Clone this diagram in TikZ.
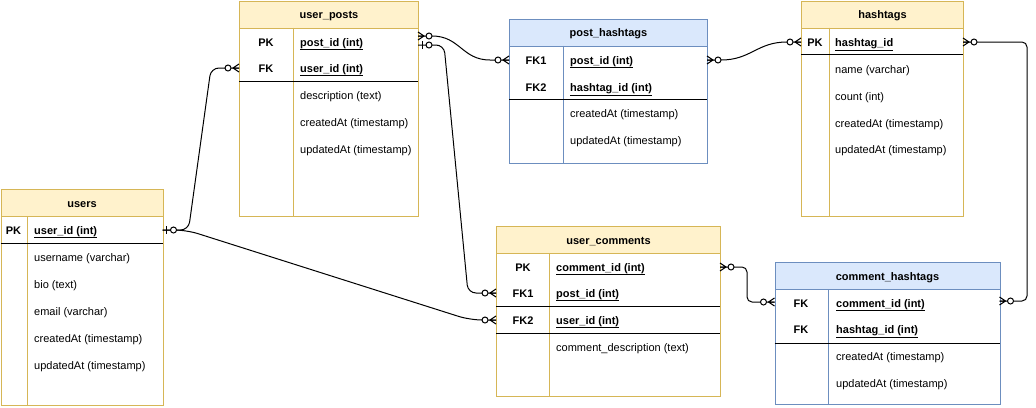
\documentclass[tikz,border=0pt]{standalone}
\usepackage{fontspec}
\setmainfont{Liberation Sans}
\definecolor{yfill}{HTML}{FFF2CC}
\definecolor{yline}{HTML}{D6B656}
\definecolor{bfill}{HTML}{DAE8FC}
\definecolor{bline}{HTML}{6C8EBF}

\tikzset{
  zmany/.pic={\draw[line width=1pt] (0,-4) -- (6,0) -- (0,4) (0,0) -- (6,0);
              \draw[line width=1pt,fill=white] (11,0) circle[radius=3];},
  zone/.pic={\draw[line width=1pt] (4,-4) -- (4,4);
             \draw[line width=1pt,fill=white] (11,0) circle[radius=3];}
}

\begin{document}
\begin{tikzpicture}[x=1pt,y=-1pt,
  every node/.style={font=\fontsize{11}{13}\selectfont,inner sep=0pt,text height=8pt,text depth=0pt},
  ybox/.style={draw=yline,fill=white,line width=1pt,anchor=north west},
  bbox/.style={draw=bline,fill=white,line width=1pt,anchor=north west},
  yhead/.style={draw=yline,fill=yfill,line width=1pt,anchor=north west,minimum height=27pt,font=\fontsize{11}{13}\selectfont\bfseries},
  bhead/.style={draw=bline,fill=bfill,line width=1pt,anchor=north west,minimum height=27pt,font=\fontsize{11}{13}\selectfont\bfseries},
  key/.style={font=\fontsize{11}{13}\selectfont\bfseries},
  fld/.style={anchor=west},
  kfld/.style={anchor=west,font=\fontsize{11}{13}\selectfont\bfseries},
  sep/.style={line width=1pt},
  rel/.style={line width=1pt}]
\useasboundingbox (0,0) rectangle (1036,407);

% users
\node[ybox,minimum width=162pt,minimum height=216pt] (users) at (0.5,189) {};
\node[yhead,minimum width=162pt] (users-h) at (0.5,189) {users};
\draw[yline,line width=1pt] (27,216) -- (27,405);
\draw[sep] (0.5,243) -- (162.5,243);
\node[key]            (users-k1) at (13.5,230) {PK};
\node[kfld]           (users-f1) at (34,230)   {\underline{user\_id (int)}};
\node[fld]            (users-f2) at (34,257)   {username (varchar)};
\node[fld]            (users-f3) at (34,284)   {bio (text)};
\node[fld]            (users-f4) at (34,311)   {email (varchar)};
\node[fld]            (users-f5) at (34,338)   {createdAt (timestamp)};
\node[fld]            (users-f6) at (34,365)   {updatedAt (timestamp)};

% user_posts
\node[ybox,minimum width=179pt,minimum height=215.5pt] (posts) at (239,0.5) {};
\node[yhead,minimum width=179pt] (posts-h) at (239,0.5) {user\_posts};
\draw[yline,line width=1pt] (293,27.5) -- (293,216);
\draw[sep] (239,81) -- (418,81);
\node[key]            (posts-k1) at (266,42)  {PK};
\node[key]            (posts-k2) at (266,68)  {FK};
\node[kfld]           (posts-f1) at (300,42)  {\underline{post\_id (int)}};
\node[kfld]           (posts-f2) at (300,68)  {\underline{user\_id (int)}};
\node[fld]            (posts-f3) at (300,95)  {description (text)};
\node[fld]            (posts-f4) at (300,122) {createdAt (timestamp)};
\node[fld]            (posts-f5) at (300,149) {updatedAt (timestamp)};

% post_hashtags
\node[bbox,minimum width=198pt,minimum height=144pt] (ph) at (509,18.5) {};
\node[bhead,minimum width=198pt] (ph-h) at (509,18.5) {post\_hashtags};
\draw[bline,line width=1pt] (563,45.5) -- (563,162.5);
\draw[sep] (509,99.5) -- (707,99.5);
\node[key]            (ph-k1) at (536,60)  {FK1};
\node[key]            (ph-k2) at (536,87)  {FK2};
\node[kfld]           (ph-f1) at (570,60)  {\underline{post\_id (int)}};
\node[kfld]           (ph-f2) at (570,87)  {\underline{hashtag\_id (int)}};
\node[fld]            (ph-f3) at (570,113) {createdAt (timestamp)};
\node[fld]            (ph-f4) at (570,140) {updatedAt (timestamp)};

% hashtags
\node[ybox,minimum width=162pt,minimum height=215.5pt] (tags) at (801,0.5) {};
\node[yhead,minimum width=162pt] (tags-h) at (801,0.5) {hashtags};
\draw[yline,line width=1pt] (829,27.5) -- (829,216);
\draw[sep] (801,54.5) -- (963,54.5);
\node[key]            (tags-k1) at (815,42)  {PK};
\node[kfld]           (tags-f1) at (835,42)  {\underline{hashtag\_id}};
\node[fld]            (tags-f2) at (835,69)  {name (varchar)};
\node[fld]            (tags-f3) at (835,96)  {count (int)};
\node[fld]            (tags-f4) at (835,123) {createdAt (timestamp)};
\node[fld]            (tags-f5) at (835,149) {updatedAt (timestamp)};

% user_comments
\node[ybox,minimum width=224pt,minimum height=170pt] (cmts) at (496,226) {};
\node[yhead,minimum width=224pt] (cmts-h) at (496,226) {user\_comments};
\draw[yline,line width=1pt] (549.5,253) -- (549.5,396);
\draw[sep] (496,306.5) -- (720,306.5);
\draw[sep] (496,333.5) -- (720,333.5);
\node[key]            (cmts-k1) at (523,267) {PK};
\node[key]            (cmts-k2) at (523,293) {FK1};
\node[key]            (cmts-k3) at (523,320) {FK2};
\node[kfld]           (cmts-f1) at (556,267) {\underline{comment\_id (int)}};
\node[kfld]           (cmts-f2) at (556,293) {\underline{post\_id (int)}};
\node[kfld]           (cmts-f3) at (556,320) {\underline{user\_id (int)}};
\node[fld]            (cmts-f4) at (556,347) {comment\_description (text)};

% comment_hashtags
\node[bbox,minimum width=225pt,minimum height=142pt] (ch) at (774.5,262) {};
\node[bhead,minimum width=225pt] (ch-h) at (774.5,262) {comment\_hashtags};
\draw[bline,line width=1pt] (828.5,289) -- (828.5,404);
\draw[sep] (774.5,343) -- (999.5,343);
\node[key]            (ch-k1) at (801,303) {FK};
\node[key]            (ch-k2) at (801,329) {FK};
\node[kfld]           (ch-f1) at (836,303) {\underline{comment\_id (int)}};
\node[kfld]           (ch-f2) at (836,329) {\underline{hashtag\_id (int)}};
\node[fld]            (ch-f3) at (836,356) {createdAt (timestamp)};
\node[fld]            (ch-f4) at (836,383) {updatedAt (timestamp)};

% connector ends
\coordinate (users-r)  at (162.5,230);
\coordinate (posts-l)  at (239,68);
\coordinate (posts-ra) at (418,36);
\coordinate (posts-rb) at (418,45);
\coordinate (ph-l)     at (509,60);
\coordinate (ph-r)     at (707,60);
\coordinate (tags-l)   at (801,42);
\coordinate (tags-r)   at (963,42);
\coordinate (cmts-l1)  at (496,293);
\coordinate (cmts-l2)  at (496,320);
\coordinate (cmts-r)   at (720,267);
\coordinate (ch-l)     at (774.5,302);
\coordinate (ch-r)     at (999.5,301);

\draw[rel,rounded corners=8]  (users-r) -- ++(26,0) -- (211,68) -- (posts-l);
\draw[rel,rounded corners=12] (users-r) -- ++(24,0) -- (470,320) -- (cmts-l2);
\draw[rel] (posts-ra) -- ++(14,0) .. controls +(28,0) and +(-28,0) .. (490,60) -- (ph-l);
\draw[rel,rounded corners=8]  (posts-rb) -- (444,45) -- (468,293) -- (cmts-l1);
\draw[rel] (ph-r) -- ++(14,0) .. controls +(30,0) and +(-30,0) .. (787,42) -- (tags-l);
\draw[rel,rounded corners=5]  (tags-r) -- (1027,42) -- (1027,301) -- (ch-r);
\draw[rel,rounded corners=5]  (cmts-r) -- (747,267) -- (747,302) -- (ch-l);

\pic at (users-r) {zone};
\pic[rotate=180] at (posts-l) {zmany};
\pic at (posts-ra) {zmany};
\pic at (posts-rb) {zone};
\pic[rotate=180] at (ph-l) {zmany};
\pic at (ph-r) {zmany};
\pic[rotate=180] at (tags-l) {zmany};
\pic at (tags-r) {zmany};
\pic[rotate=180] at (cmts-l1) {zmany};
\pic[rotate=180] at (cmts-l2) {zmany};
\pic at (cmts-r) {zmany};
\pic[rotate=180] at (ch-l) {zmany};
\pic at (ch-r) {zmany};
\end{tikzpicture}
\end{document}
